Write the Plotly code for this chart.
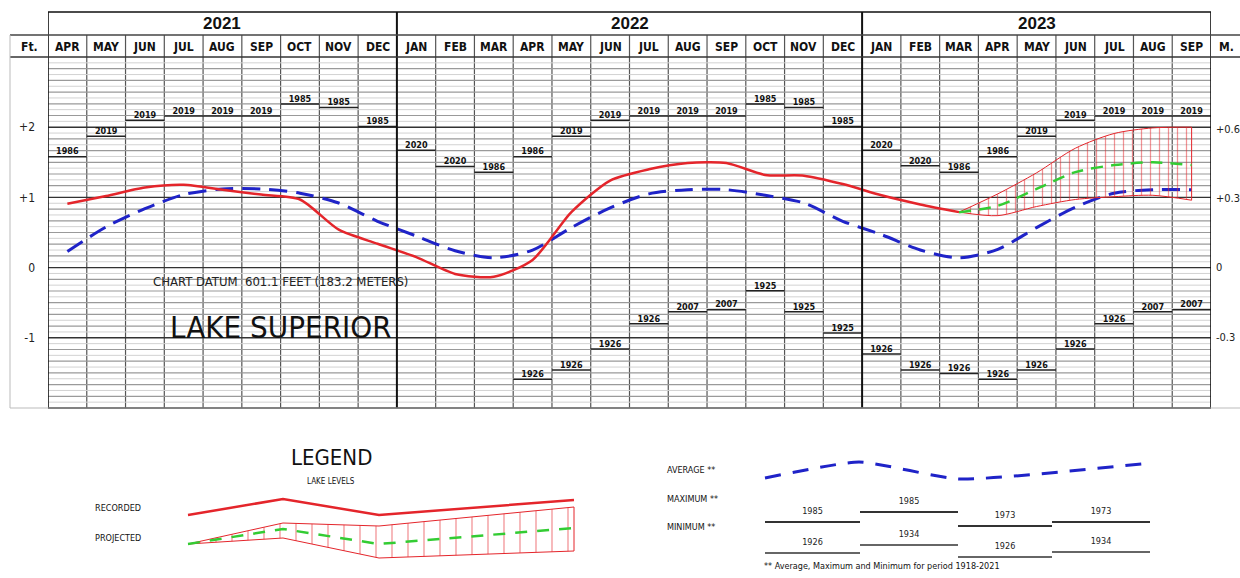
import plotly.graph_objects as go

W, H = 1240, 578

# ---------------- data ----------------
YEARS = ["2021", "2022", "2023"]
YEAR_MONTHS = [9, 12, 9]
MONTHS = ["APR", "MAY", "JUN", "JUL", "AUG", "SEP", "OCT", "NOV", "DEC",
          "JAN", "FEB", "MAR", "APR", "MAY", "JUN", "JUL", "AUG", "SEP", "OCT", "NOV", "DEC",
          "JAN", "FEB", "MAR", "APR", "MAY", "JUN", "JUL", "AUG", "SEP"]

# recorded level (ft above chart datum), Apr 2021 .. Mar 2023
RECORDED = [0.91, 1.02, 1.14, 1.18, 1.11, 1.04, 0.97, 0.54, 0.34,
            0.15, -0.09, -0.13, 0.11, 0.79, 1.24, 1.40, 1.49, 1.49, 1.32, 1.31, 1.19,
            1.03, 0.90, 0.79]
# long-term average, Apr 2021 .. Sep 2023
AVERAGE = [0.23, 0.58, 0.84, 1.04, 1.12, 1.12, 1.06, 0.92, 0.66,
           0.45, 0.24, 0.14, 0.25, 0.57, 0.85, 1.05, 1.11, 1.11, 1.03, 0.92, 0.66,
           0.47, 0.25, 0.14, 0.26, 0.57, 0.86, 1.06, 1.11, 1.11]
# projection, Mar 2023 .. Sep 2023
PROJ_START = 23
PROJ_MID = [0.79, 0.88, 1.12, 1.36, 1.46, 1.50, 1.46]
PROJ_HIGH = [0.79, 1.05, 1.35, 1.70, 1.91, 1.99, 2.00]
PROJ_LOW = [0.79, 0.74, 0.87, 0.97, 1.01, 1.03, 0.96]

MAX_LEVEL = [1.58, 1.87, 2.10, 2.16, 2.16, 2.16, 2.33, 2.28, 2.01,
             1.67, 1.44, 1.36, 1.58, 1.87, 2.10, 2.16, 2.16, 2.16, 2.33, 2.28, 2.01,
             1.67, 1.45, 1.36, 1.58, 1.87, 2.10, 2.16, 2.16, 2.16]
MAX_YEAR = ["1986", "2019", "2019", "2019", "2019", "2019", "1985", "1985", "1985",
            "2020", "2020", "1986", "1986", "2019", "2019", "2019", "2019", "2019", "1985", "1985", "1985",
            "2020", "2020", "1986", "1986", "2019", "2019", "2019", "2019", "2019"]
MIN_LEVEL = [None] * 12 + [-1.59, -1.46, -1.16, -0.80, -0.63, -0.60, -0.33, -0.63, -0.93,
                           -1.23, -1.46, -1.51, -1.59, -1.46, -1.16, -0.80, -0.63, -0.60]
MIN_YEAR = [""] * 12 + ["1926", "1926", "1926", "1926", "2007", "2007", "1925", "1925", "1925",
                        "1926", "1926", "1926", "1926", "1926", "1926", "1926", "2007", "2007"]

FT_TICKS = [2, 1, 0, -1]
FT_LABELS = ["+2", "+1", "0", "-1"]
M_TICKS = [0.6, 0.3, 0, -0.3]
M_LABELS = ["+0.6", "+0.3", "0", "-0.3"]

# legend sample shapes (legend panel coordinates)
LEG_X = [188, 283, 379, 574]
LEG_REC_Y = [515, 499, 515, 500]
LEG_PROJ_MID = [544, 529, 544, 528]
LEG_PROJ_HIGH = [544, 523, 526, 507]
LEG_PROJ_LOW = [544, 538, 558, 551]
LEG_AVG_X = [765, 859, 959, 1150]
LEG_AVG_Y = [478, 462, 479, 463]
LEG_SEG_EDGES = [765, 860, 958, 1052, 1150]
LEG_MAX_Y = [522, 512, 526, 522]
LEG_MAX_YEAR = ["1985", "1985", "1973", "1973"]
LEG_MIN_Y = [553, 545, 557, 552]
LEG_MIN_YEAR = ["1926", "1934", "1926", "1934"]

# ---------------- styling ----------------
NARROW = "Liberation Sans Narrow, Arial Narrow, DejaVu Sans Condensed, sans-serif"
WIDE = "Liberation Sans, Arial, sans-serif"
RED = "#e4252b"
BLUE = "#1f23c8"
GREEN = "#33cc33"

PX_L, PX_R = 48, 1211
PX_YEAR_TOP, PX_MONTH_TOP, PX_GRID_TOP, PX_BOTTOM = 12, 35, 57, 408


def py(p):
    return 1 - p / H


N = len(MONTHS)
centers = [i + 0.5 for i in range(N)]

fig = go.Figure()

# average
fig.add_trace(go.Scatter(x=centers, y=AVERAGE, mode="lines",
                         line=dict(color=BLUE, width=3, dash="18px,9px", shape="spline", smoothing=0.8),
                         hoverinfo="skip", showlegend=False))

# projection band
px_ = centers[PROJ_START:PROJ_START + len(PROJ_MID)]
fig.add_trace(go.Scatter(x=px_, y=PROJ_LOW, mode="lines",
                         line=dict(color=RED, width=1, shape="spline", smoothing=0.8),
                         hoverinfo="skip", showlegend=False))
fig.add_trace(go.Scatter(x=px_, y=PROJ_HIGH, mode="lines", fill="tonexty",
                         fillcolor="rgba(0,0,0,0)",
                         fillpattern=dict(shape="|", fgcolor=RED, bgcolor="rgba(255,255,255,0)",
                                          size=9, solidity=0.14),
                         line=dict(color=RED, width=1, shape="spline", smoothing=0.8),
                         hoverinfo="skip", showlegend=False))
fig.add_trace(go.Scatter(x=[px_[-1], px_[-1]], y=[PROJ_LOW[-1], PROJ_HIGH[-1]], mode="lines",
                         line=dict(color=RED, width=1), hoverinfo="skip", showlegend=False))
fig.add_trace(go.Scatter(x=px_, y=PROJ_MID, mode="lines",
                         line=dict(color=GREEN, width=2.5, dash="12px,8px", shape="spline", smoothing=0.8),
                         hoverinfo="skip", showlegend=False))

# recorded
fig.add_trace(go.Scatter(x=centers[:len(RECORDED)], y=RECORDED, mode="lines",
                         line=dict(color=RED, width=2.5, shape="spline", smoothing=0.7),
                         hoverinfo="skip", showlegend=False))


def step_marks(levels, years):
    sx, sy, tx, ty, tt = [], [], [], [], []
    for i, (v, yr) in enumerate(zip(levels, years)):
        if v is None:
            continue
        sx += [i, i + 1, None]
        sy += [v, v, None]
        tx.append(i + 0.5)
        ty.append(v)
        tt.append(yr)
    return sx, sy, tx, ty, tt


for lv, yrs in ((MAX_LEVEL, MAX_YEAR), (MIN_LEVEL, MIN_YEAR)):
    sx, sy, tx, ty, tt = step_marks(lv, yrs)
    fig.add_trace(go.Scatter(x=sx, y=sy, mode="lines", line=dict(color="#222", width=1.5),
                             hoverinfo="skip", showlegend=False))
    fig.add_trace(go.Scatter(x=tx, y=ty, mode="text", text=tt, textposition="top center",
                             textfont=dict(family=NARROW, size=9, color="#111", weight="bold"),
                             hoverinfo="skip", showlegend=False))

# meter axis carrier (invisible)
fig.add_trace(go.Scatter(x=[0], y=[0], yaxis="y3", mode="markers", marker=dict(opacity=0),
                         hoverinfo="skip", showlegend=False))

# ---------------- legend panel (x2/y2) ----------------
fig.add_trace(go.Scatter(x=LEG_X, y=LEG_REC_Y, xaxis="x2", yaxis="y2", mode="lines",
                         line=dict(color=RED, width=2.5), hoverinfo="skip", showlegend=False))
fig.add_trace(go.Scatter(x=LEG_X, y=LEG_PROJ_LOW, xaxis="x2", yaxis="y2", mode="lines",
                         line=dict(color=RED, width=1), hoverinfo="skip", showlegend=False))
fig.add_trace(go.Scatter(x=LEG_X, y=LEG_PROJ_HIGH, xaxis="x2", yaxis="y2", mode="lines",
                         fill="tonexty", fillcolor="rgba(0,0,0,0)",
                         fillpattern=dict(shape="|", fgcolor=RED, bgcolor="rgba(255,255,255,0)",
                                          size=16, solidity=0.08),
                         line=dict(color=RED, width=1), hoverinfo="skip", showlegend=False))
fig.add_trace(go.Scatter(x=[LEG_X[-1], LEG_X[-1]], y=[LEG_PROJ_LOW[-1], LEG_PROJ_HIGH[-1]],
                         xaxis="x2", yaxis="y2", mode="lines", line=dict(color=RED, width=1),
                         hoverinfo="skip", showlegend=False))
fig.add_trace(go.Scatter(x=LEG_X, y=LEG_PROJ_MID, xaxis="x2", yaxis="y2", mode="lines",
                         line=dict(color=GREEN, width=2.5, dash="12px,10px"),
                         hoverinfo="skip", showlegend=False))
fig.add_trace(go.Scatter(x=LEG_AVG_X, y=LEG_AVG_Y, xaxis="x2", yaxis="y2", mode="lines",
                         line=dict(color=BLUE, width=3, dash="16px,12px", shape="spline", smoothing=0.5),
                         hoverinfo="skip", showlegend=False))

for ys, yrs, col in ((LEG_MAX_Y, LEG_MAX_YEAR, "#333"), (LEG_MIN_Y, LEG_MIN_YEAR, "#666")):
    sx, sy, tx, ty = [], [], [], []
    for k, (v, yr) in enumerate(zip(ys, yrs)):
        sx += [LEG_SEG_EDGES[k], LEG_SEG_EDGES[k + 1], None]
        sy += [v, v, None]
        tx.append((LEG_SEG_EDGES[k] + LEG_SEG_EDGES[k + 1]) / 2)
        ty.append(v - 6)
    fig.add_trace(go.Scatter(x=sx, y=sy, xaxis="x2", yaxis="y2", mode="lines",
                             line=dict(color=col, width=2), hoverinfo="skip", showlegend=False))
    fig.add_trace(go.Scatter(x=tx, y=ty, xaxis="x2", yaxis="y2", mode="text", text=yrs,
                             textposition="top center",
                             textfont=dict(family=NARROW, size=9, color="#222"),
                             hoverinfo="skip", showlegend=False))

# ---------------- shapes (grid and frame) ----------------
shapes = []
y_bot, y_gtop, y_mtop, y_ytop = py(PX_BOTTOM), py(PX_GRID_TOP), py(PX_MONTH_TOP), py(PX_YEAR_TOP)

for k in range(-23, 36):
    yv = k / 12
    if k % 12 == 0:
        col, wd = "#333333", 1.4
    elif k % 2 == 0:
        col, wd = "#9a9a9a", 1.2
    else:
        col, wd = "#d2d2d2", 1
    shapes.append(dict(type="line", xref="x", yref="y", x0=0, x1=N, y0=yv, y1=yv,
                       line=dict(color=col, width=wd), layer="below"))

year_breaks = []
acc = 0
for n in YEAR_MONTHS[:-1]:
    acc += n
    year_breaks.append(acc)

for i in range(1, N):
    if i in year_breaks:
        shapes.append(dict(type="line", xref="x", yref="paper", x0=i, x1=i, y0=y_bot, y1=y_ytop,
                           line=dict(color="#111", width=2)))
    else:
        shapes.append(dict(type="line", xref="x", yref="paper", x0=i, x1=i, y0=y_bot, y1=y_mtop,
                           line=dict(color="#555", width=1.2), layer="below"))

# main frame
shapes.append(dict(type="rect", xref="x", yref="paper", x0=0, x1=N, y0=y_bot, y1=y_ytop,
                   line=dict(color="#111", width=1.6)))
for yy, col, wd in ((y_gtop, "#333", 1.4), (y_mtop, "#444", 1.4)):
    shapes.append(dict(type="line", xref="paper", yref="paper", x0=10 / W, x1=1, y0=yy, y1=yy,
                       line=dict(color=col, width=wd)))
shapes.append(dict(type="line", xref="paper", yref="paper", x0=10 / W, x1=10 / W, y0=y_bot, y1=y_mtop,
                   line=dict(color="#bbb", width=1)))
shapes.append(dict(type="line", xref="paper", yref="paper", x0=10 / W, x1=1, y0=y_bot, y1=y_bot,
                   line=dict(color="#bbb", width=1)))

# ---------------- annotations ----------------
ann = []
start = 0
for yr, n in zip(YEARS, YEAR_MONTHS):
    ann.append(dict(text=yr, x=start + n / 2, y=py((PX_YEAR_TOP + PX_MONTH_TOP) / 2), xref="x", yref="paper",
                    xanchor="center", yanchor="middle", showarrow=False,
                    font=dict(family=WIDE, size=17, color="#111", weight="bold")))
    start += n
for i, m in enumerate(MONTHS):
    ann.append(dict(text=m, x=i + 0.5, y=py((PX_MONTH_TOP + PX_GRID_TOP) / 2 + 1), xref="x", yref="paper",
                    xanchor="center", yanchor="middle", showarrow=False,
                    font=dict(family=NARROW, size=12, color="#111", weight="bold")))
ann.append(dict(text="Ft.", x=29 / W, y=py(47), xref="paper", yref="paper", showarrow=False,
                xanchor="center", yanchor="middle",
                font=dict(family=NARROW, size=12, color="#111", weight="bold")))
ann.append(dict(text="M.", x=1226 / W, y=py(47), xref="paper", yref="paper", showarrow=False,
                xanchor="center", yanchor="middle",
                font=dict(family=NARROW, size=12, color="#111", weight="bold")))
ann.append(dict(text="CHART DATUM  601.1 FEET (183.2 METERS)", x=6.0, y=-0.2, xref="x", yref="y",
                xanchor="center", yanchor="middle",
                showarrow=False, font=dict(family=NARROW, size=13, color="#222")))
ann.append(dict(text="LAKE SUPERIOR", x=6.0, y=-0.85, xref="x", yref="y",
                xanchor="center", yanchor="middle",
                showarrow=False, font=dict(family=NARROW, size=31, color="#111")))

# legend panel text
leg_txt = [
    ("LEGEND", 331, 457, 22, "center"),
    ("LAKE LEVELS", 331, 481, 8, "center"),
    ("RECORDED", 118, 508, 9, "center"),
    ("PROJECTED", 118, 538, 9, "center"),
    ("AVERAGE **", 665, 470, 9, "left"),
    ("MAXIMUM **", 665, 499, 9, "left"),
    ("MINIMUM **", 665, 527, 9, "left"),
    ("** Average, Maximum and Minimum for period 1918-2021", 762, 566, 9, "left"),
]
for t, x, y, s, al in leg_txt:
    ann.append(dict(text=t, x=x, y=y, xref="x2", yref="y2", showarrow=False, xanchor=al,
                    yanchor="middle", font=dict(family=NARROW, size=s, color="#111")))

fig.update_layout(
    width=W, height=H, margin=dict(l=0, r=0, t=0, b=0),
    paper_bgcolor="white", plot_bgcolor="rgba(0,0,0,0)",
    showlegend=False,
    xaxis=dict(domain=[PX_L / W, PX_R / W], range=[0, N], showgrid=False, zeroline=False,
               showticklabels=False, showline=False, fixedrange=True),
    yaxis=dict(domain=[y_bot, y_gtop], range=[-2, 3], showgrid=False, zeroline=False,
               tickmode="array", tickvals=FT_TICKS, ticktext=FT_LABELS, ticks="",
               ticklabelstandoff=12, tickfont=dict(family=NARROW, size=12, color="#222")),
    yaxis3=dict(overlaying="y", side="right", anchor="x", range=[-2 * 0.3048, 3 * 0.3048],
                showgrid=False, zeroline=False, tickmode="array", tickvals=M_TICKS, ticktext=M_LABELS,
                ticks="", ticklabelstandoff=4, tickfont=dict(family=NARROW, size=11, color="#222")),
    xaxis2=dict(domain=[0, 1], range=[0, W], visible=False, anchor="y2", fixedrange=True),
    yaxis2=dict(domain=[0, py(420)], range=[H, 420], visible=False, anchor="x2", fixedrange=True),
    shapes=shapes, annotations=ann,
)

fig.write_html("out.html", config={"displayModeBar": False},
               post_script="document.body.style.margin='0px';document.body.style.padding='0px';")
